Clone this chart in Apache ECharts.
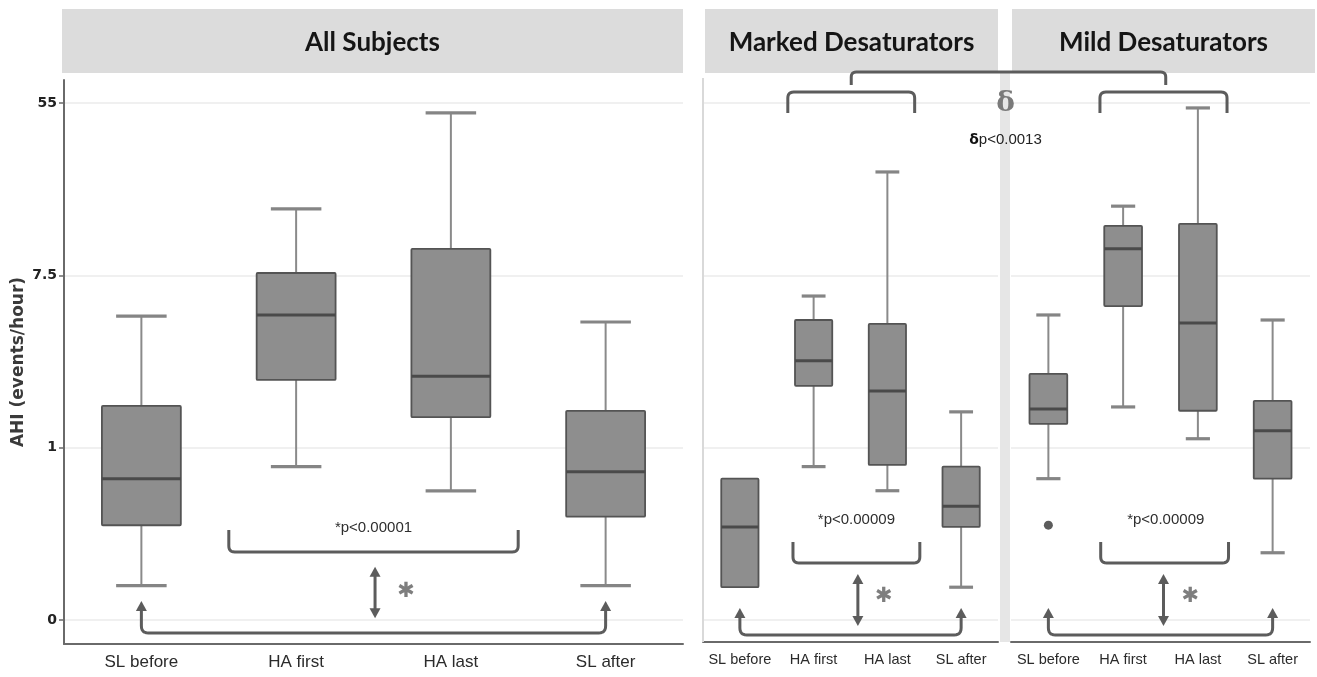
<!DOCTYPE html>
<html>
<head>
<meta charset="utf-8">
<script src="https://cdn.jsdelivr.net/npm/echarts@6/dist/echarts.min.js"></script>
<style>
html,body{margin:0;padding:0;background:#fff;}
#c{width:1317px;height:677px;}
</style>
</head>
<body>
<div id="c"></div>
<script>
// ---------------- DATA ----------------
const categories = ['SL before', 'HA first', 'HA last', 'SL after'];
const panelTitles = ['All Subjects', 'Marked Desaturators', 'Mild Desaturators'];
const tickValues = [0, 1, 7.5, 55];
const tickLabels = ['0', '1', '7.5', '55'];
// each box: [lower whisker, Q1, median, Q3, upper whisker]  (AHI, events/hour)
const allSubjects = [
  [0.20, 0.55, 0.82, 1.63, 4.66],
  [0.89, 2.21, 4.72, 7.71, 16.2],
  [0.75, 1.43, 2.31, 10.2, 49.1],
  [0.20, 0.60, 0.86, 1.54, 4.35]
];
const markedDesaturators = [
  [0.19, 0.19, 0.54, 0.82, 0.82],
  [0.89, 2.06, 2.76, 4.45, 5.89],
  [0.75, 0.90, 1.94, 4.25, 24.8],
  [0.19, 0.54, 0.66, 0.89, 1.52]
];
const mildDesaturators = [
  [0.82, 1.32, 1.57, 2.37, 4.72],
  [1.61, 5.24, 10.2, 13.3, 16.7],
  [1.11, 1.54, 4.30, 13.6, 52.0],
  [0.39, 0.82, 1.22, 1.73, 4.45]
];
// outliers: [category index, AHI]
const mildOutliers = [[0, 0.55]];
const pTexts = ['*p<0.00001', '*p<0.00009', '*p<0.00009'];
const deltaSymbol = 'δ';
const deltaText = 'p<0.0013';
const yAxisName = 'AHI (events/hour)';

// ---------------- SCALE (ticks equally spaced) ----------------
function toPos(v) {
  const n = tickValues.length;
  for (let i = 0; i < n - 1; i++) {
    const a = tickValues[i], b = tickValues[i + 1];
    if (v <= b || i === n - 2) {
      if (a <= 0) return i + (v - a) / (b - a);
      return i + Math.log(v / a) / Math.log(b / a);
    }
  }
}
const tickPos = tickValues.map(toPos);
const panels = [allSubjects, markedDesaturators, mildDesaturators];

// ---------------- LAYOUT / STYLE ----------------
const GRID = [
  {left: 64, top: 80, width: 619, height: 564},
  {left: 703, top: 80, width: 295, height: 562},
  {left: 1011, top: 80, width: 299, height: 562}
];
const Y_MIN = [-0.139, -0.128, -0.128];
const Y_MAX = 3.134;
const BOX_FRAC = [0.51, 0.505, 0.505];
const CAP_FRAC = 0.64;
const LABEL_SIZE = [17, 14.5, 14.5];
const LABEL_FONT = "'Liberation Sans',Arial,sans-serif";
const ANN = '#5c5c5c';

function boxRenderer(gi) {
  return function (params, api) {
    const x = api.value(0);
    const lo = api.coord([x, api.value(1)]);
    const q1 = api.coord([x, api.value(2)]);
    const md = api.coord([x, api.value(3)]);
    const q3 = api.coord([x, api.value(4)]);
    const hi = api.coord([x, api.value(5)]);
    const band = api.size([1, 0])[0];
    const bw = band * BOX_FRAC[gi];
    const cw = bw * CAP_FRAC;
    const cx = lo[0];
    const ch = [];
    const ws = {stroke: '#8a8a8a', lineWidth: 2};
    const cs = {stroke: '#858585', lineWidth: 3.2};
    if (q3[1] - hi[1] > 0.5) {
      ch.push({type: 'line', shape: {x1: cx, y1: hi[1], x2: cx, y2: q3[1]}, style: ws});
      ch.push({type: 'line', shape: {x1: cx - cw / 2, y1: hi[1], x2: cx + cw / 2, y2: hi[1]}, style: cs});
    }
    if (lo[1] - q1[1] > 0.5) {
      ch.push({type: 'line', shape: {x1: cx, y1: q1[1], x2: cx, y2: lo[1]}, style: ws});
      ch.push({type: 'line', shape: {x1: cx - cw / 2, y1: lo[1], x2: cx + cw / 2, y2: lo[1]}, style: cs});
    }
    ch.push({type: 'rect', shape: {x: cx - bw / 2, y: q3[1], width: bw, height: q1[1] - q3[1], r: 1},
      style: {fill: '#8e8e8e', stroke: '#545454', lineWidth: 1.8}});
    ch.push({type: 'line', shape: {x1: cx - bw / 2, y1: md[1], x2: cx + bw / 2, y2: md[1]},
      style: {stroke: '#4a4a4a', lineWidth: 3}});
    return {type: 'group', children: ch};
  };
}

const option = {
  animation: false,
  backgroundColor: '#ffffff',
  grid: GRID.map(g => Object.assign({containLabel: false}, g)),
  xAxis: GRID.map((g, i) => ({
    type: 'category', gridIndex: i, data: categories, boundaryGap: true,
    axisLine: {show: true, onZero: false, lineStyle: {color: '#6a6a6a', width: 2}},
    axisTick: {show: false},
    axisLabel: {color: '#2b2b2b', fontSize: LABEL_SIZE[i], fontFamily: LABEL_FONT, margin: i === 0 ? 10 : 10, interval: 0},
    splitLine: {show: false}
  })),
  yAxis: GRID.map((g, i) => ({
    type: 'value', gridIndex: i, min: Y_MIN[i], max: Y_MAX,
    name: i === 0 ? yAxisName : '',
    nameLocation: 'middle', nameRotate: 90, nameGap: 37,
    nameTextStyle: {fontFamily: 'DejaVu Sans', fontSize: 17, fontWeight: 'bold', color: '#3a3a3a'},
    axisLine: {show: i === 0, onZero: false, lineStyle: {color: '#6a6a6a', width: 2}},
    axisTick: {show: i === 0, customValues: tickPos, length: 5, lineStyle: {color: '#6a6a6a', width: 1.5}},
    axisLabel: {
      show: i === 0, customValues: tickPos, margin: 7,
      fontFamily: 'DejaVu Sans', fontSize: 14, fontWeight: 'bold', color: '#222',
      formatter: v => {
        const k = tickPos.findIndex(t => Math.abs(t - v) < 1e-6);
        return k >= 0 ? tickLabels[k] : '';
      }
    },
    splitLine: {show: true, lineStyle: {color: '#ebebeb', width: 1.5}}
  })),
  series: panels.map((d, i) => ({
    type: 'custom', xAxisIndex: i, yAxisIndex: i,
    renderItem: boxRenderer(i),
    encode: {x: 0, y: [1, 2, 3, 4, 5]},
    data: d.map((b, k) => [k].concat(b.map(toPos))),
    z: 3
  })).concat([{
    type: 'scatter', xAxisIndex: 2, yAxisIndex: 2, symbol: 'circle', symbolSize: 9,
    itemStyle: {color: '#333'},
    data: mildOutliers.map(o => [o[0], toPos(o[1])]), z: 4
  }])
};

const chart = echarts.init(document.getElementById('c'));
chart.setOption(option);

// ---------------- ANNOTATIONS ----------------
function px(g, f) {
  const c0 = chart.convertToPixel({gridIndex: g}, [0, 0])[0];
  const c1 = chart.convertToPixel({gridIndex: g}, [1, 0])[0];
  return c0 + f * (c1 - c0);
}
function py(g, p) { return chart.convertToPixel({gridIndex: g}, [0, p])[1]; }

function rounded(pts, r) {
  const out = [pts[0]];
  for (let i = 1; i < pts.length - 1; i++) {
    const p0 = pts[i - 1], p1 = pts[i], p2 = pts[i + 1];
    const d1 = Math.hypot(p1[0] - p0[0], p1[1] - p0[1]);
    const d2 = Math.hypot(p2[0] - p1[0], p2[1] - p1[1]);
    const rr = Math.min(r, d1 / 2, d2 / 2);
    const a = [p1[0] + (p0[0] - p1[0]) * rr / d1, p1[1] + (p0[1] - p1[1]) * rr / d1];
    const b = [p1[0] + (p2[0] - p1[0]) * rr / d2, p1[1] + (p2[1] - p1[1]) * rr / d2];
    for (let k = 0; k <= 6; k++) {
      const t = k / 6;
      out.push([(1 - t) * (1 - t) * a[0] + 2 * t * (1 - t) * p1[0] + t * t * b[0],
                (1 - t) * (1 - t) * a[1] + 2 * t * (1 - t) * p1[1] + t * t * b[1]]);
    }
  }
  out.push(pts[pts.length - 1]);
  return out;
}
function poly(points, r, w) {
  return {type: 'polyline', z: 20, silent: true, shape: {points: rounded(points, r)},
    style: {stroke: ANN, lineWidth: w || 3, fill: null, lineJoin: 'round', lineCap: 'butt'}};
}
function arrowHead(x, y, dir) { // dir -1: pointing up, +1: pointing down
  const h = 10, hw = 5.5;
  return {type: 'polygon', z: 21, silent: true,
    shape: {points: [[x, y], [x - hw, y - dir * h], [x + hw, y - dir * h]]},
    style: {fill: ANN}};
}
function txt(x, y, s, style) {
  return {type: 'text', z: 22, silent: true, x: x, y: y,
    style: Object.assign({text: s, align: 'center', verticalAlign: 'middle'}, style)};
}

const ANNOT = [
  {bracket: [0.565, 2.435], brTop: 0.522, brBot: 0.395, text: [1.5, 0.534], dbl: [1.51, 0.31, 0.01],
   star: [1.71, 0.165], base: [-0.075, 0.11]},
  {bracket: [0.72, 2.44], brTop: 0.453, brBot: 0.331, text: [1.58, 0.58], dbl: [1.60, 0.267, -0.035],
   star: [1.95, 0.133], base: [-0.087, 0.07]},
  {bracket: [0.70, 2.41], brTop: 0.453, brBot: 0.331, text: [1.57, 0.58], dbl: [1.54, 0.267, -0.035],
   star: [1.90, 0.133], base: [-0.087, 0.07]}
];

const els = [];
// headers
GRID.forEach((g, i) => {
  const x0 = i === 0 ? g.left - 2 : g.left + (i === 1 ? 2 : 1);
  const w = (i === 0 ? g.width + 2 : (i === 1 ? g.width - 2 : g.width + 4));
  els.push({type: 'rect', z: 1, silent: true, shape: {x: x0, y: 9, width: w, height: 64}, style: {fill: '#dcdcdc'}});
  els.push(txt(x0 + w / 2, 43, panelTitles[i], {fontFamily: 'Lato', fontWeight: 'bold', fontSize: 26, fill: '#151515'}));
});
// panel separators
els.push({type: 'line', z: 1, silent: true, shape: {x1: GRID[1].left, y1: 78, x2: GRID[1].left, y2: GRID[1].top + GRID[1].height},
  style: {stroke: '#d9d9d9', lineWidth: 2}});
els.push({type: 'rect', z: 1, silent: true, shape: {x: 1000, y: 73, width: 10, height: GRID[2].top + GRID[2].height - 73},
  style: {fill: '#e6e6e6'}});

ANNOT.forEach((a, g) => {
  const x1 = px(g, a.bracket[0]), x2 = px(g, a.bracket[1]);
  const yt = py(g, a.brTop), yb = py(g, a.brBot);
  els.push(poly([[x1, yt], [x1, yb], [x2, yb], [x2, yt]], 6));
  els.push(txt(px(g, a.text[0]), py(g, a.text[1]), pTexts[g],
    {fontFamily: "'Liberation Sans',Arial,sans-serif", fontSize: 15, fill: '#2e2e2e'}));
  // double arrow
  const dx = px(g, a.dbl[0]), dy1 = py(g, a.dbl[1]), dy2 = py(g, a.dbl[2]);
  els.push({type: 'line', z: 20, silent: true, shape: {x1: dx, y1: dy1 + 8, x2: dx, y2: dy2 - 8}, style: {stroke: ANN, lineWidth: 3}});
  els.push(arrowHead(dx, dy1, -1));
  els.push(arrowHead(dx, dy2, 1));
  els.push(txt(px(g, a.star[0]), py(g, a.star[1]), '✱', {fontFamily: 'DejaVu Sans', fontSize: 21, fill: '#7e7e7e'}));
  // base arrow from SL before to SL after
  const bx1 = px(g, 0), bx2 = px(g, 3), by = py(g, a.base[0]), tip = py(g, a.base[1]);
  els.push(poly([[bx1, tip + 8], [bx1, by], [bx2, by], [bx2, tip + 8]], 7));
  els.push(arrowHead(bx1, tip, -1));
  els.push(arrowHead(bx2, tip, -1));
});

// delta comparison brackets (Marked vs Mild)
const TOP = {marked: [0.65, 2.37], mild: [0.69, 2.39], top: 3.064, leg: 2.943, big: 3.18, bigLeg: 3.105, mid: [1.51, 1.57]};
[[1, TOP.marked], [2, TOP.mild]].forEach(([g, r]) => {
  const x1 = px(g, r[0]), x2 = px(g, r[1]);
  els.push(poly([[x1, py(g, TOP.leg)], [x1, py(g, TOP.top)], [x2, py(g, TOP.top)], [x2, py(g, TOP.leg)]], 6));
});
{
  const xa = px(1, TOP.mid[0]), xb = px(2, TOP.mid[1]);
  els.push(poly([[xa, py(1, TOP.bigLeg)], [xa, py(1, TOP.big)], [xb, py(1, TOP.big)], [xb, py(1, TOP.bigLeg)]], 5));
}
const midX = (GRID[1].left + GRID[1].width + GRID[2].left) / 2 + 1;
els.push(txt(midX, 104, deltaSymbol, {fontFamily: 'DejaVu Serif', fontWeight: 'bold', fontSize: 28, fill: '#7a7a7a'}));
els.push({type: 'text', z: 22, silent: true, x: midX, y: 140,
  style: {text: '{d|' + deltaSymbol + '}{p|' + deltaText + '}', align: 'center', verticalAlign: 'middle',
    rich: {d: {fontFamily: 'DejaVu Sans', fontWeight: 'bold', fontSize: 14, fill: '#111'},
           p: {fontFamily: "'Liberation Sans',Arial,sans-serif", fontSize: 15, fill: '#222'}}}});

chart.setOption({graphic: els});
</script>
</body>
</html>
